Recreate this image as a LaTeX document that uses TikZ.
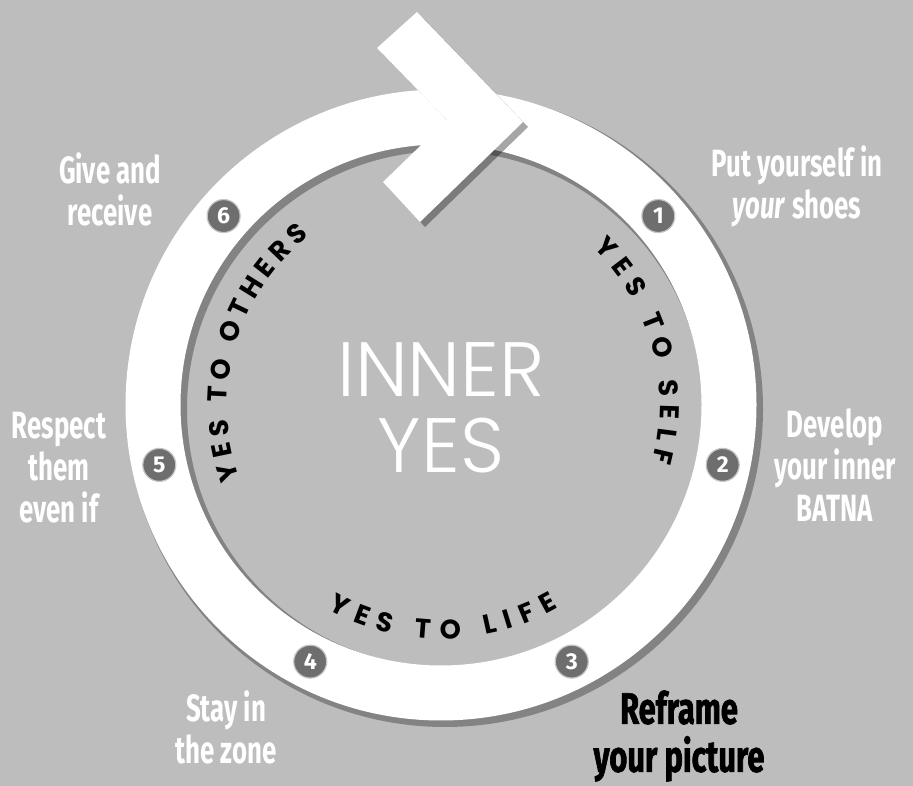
\documentclass[tikz,border=0pt]{standalone}
\usepackage{fontspec}
\usepackage{xcolor}
\usetikzlibrary{decorations.text}
\setmainfont{Fira Sans}
\newfontfamily\condfont{Fira Sans}[FakeStretch=0.68]
\newfontfamily\heavyfont{Fira Sans}[FakeStretch=0.7, FakeBold=1.5]
\newfontfamily\arcfont{Poppins}
\newfontfamily\thinfont{Poppins Light}
\definecolor{paper}{RGB}{189,189,189}
\definecolor{dotgray}{RGB}{110,110,110}

\begin{document}
\begin{tikzpicture}[x=1pt, y=1pt,
    step label/.style={text=white, font=\condfont\bfseries\fontsize{38}{42}\selectfont, align=center},
    numdot/.style={circle, fill=dotgray, draw=white!60!dotgray, line width=1.2pt, minimum size=33pt, inner sep=0pt,
        text=white, font=\bfseries\fontsize{23}{23}\selectfont},
    arc text/.style={decorate, decoration={text along path, text align=fit to path,
        text={|\arcfont\bfseries\fontsize{27}{27}\selectfont|#1}}}
]
    \fill[paper] (0,0) rectangle (913,786);
    \useasboundingbox (0,0) rectangle (913,786);
    \coordinate (c) at (441,381);

    % ring
    \draw[line width=60pt, black, opacity=.3] ([shift={(4,-4)}]c) circle (288);
    \draw[line width=55pt, white] (c) circle (288);

    % arrow head on top of the ring
    \fill[black, opacity=.35, shift={(5,-5)}] (417,774) -- (523,664) -- (420,564) -- (383,604) -- (447,666) -- (377,738) -- cycle;
    \fill[white] (417,774) -- (523,664) -- (420,564) -- (383,604) -- (447,666) -- (377,738) -- cycle;

    \foreach \a/\n in {41/1, -12/2, -63/3, -117/4, 192/5, 139/6}
        \node[numdot] (step\n) at ([shift={(\a:288)}]c) {\n};

    \node[step label] (give) at (110,597) {Give and\\receive};
    \node[step label] (shoes) at (797,600) {Put yourself in\\\textit{your} shoes};
    \node[step label] (batna) at (835,321) {Develop\\your inner\\BATNA};
    \node[step label] (respect) at (59,318) {Respect\\them\\even if};
    \node[step label] (zone) at (226,59) {Stay in\\the zone};
    \node[step label, text=black, font=\heavyfont\bfseries\fontsize{44}{48}\selectfont] (reframe) at (679,50) {Reframe\\your picture};

    \node[text=white, align=center, font=\thinfont\fontsize{77}{76}\selectfont] (inner) at (441,378) {INNER\\YES};

    \path[arc text={YES TO SELF}] ([shift={(46:219)}]c) arc[start angle=46, end angle=-15, radius=219];
    \path[arc text={YES TO LIFE}] ([shift={(-119:234)}]c) arc[start angle=-119, end angle=-60, radius=234];
    \path[arc text={YES TO OTHERS}] ([shift={(200:214)}]c) arc[start angle=200, end angle=128, radius=214];
\end{tikzpicture}
\end{document}
